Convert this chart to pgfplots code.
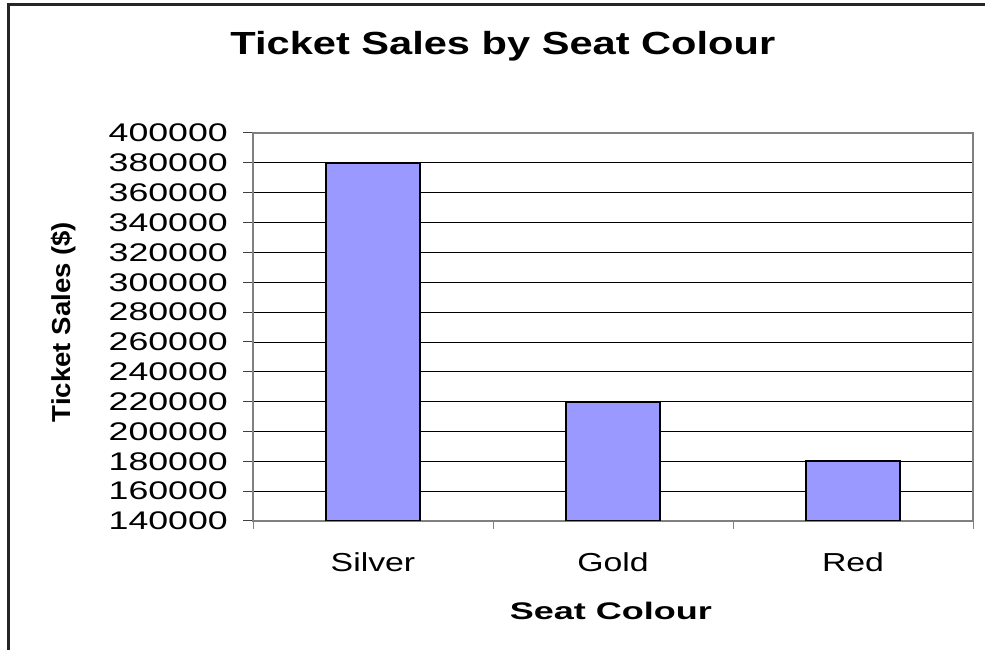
\documentclass[border=0pt]{standalone}
\usepackage{fontspec}
\setmainfont{Liberation Sans}
\newfontfamily\tickfont{Liberation Sans}[FakeStretch=1.4]
\newfontfamily\catfont{Liberation Sans}[FakeStretch=1.3]
\newfontfamily\titlefont{Liberation Sans}[FakeStretch=1.3]
\newfontfamily\xlabfont{Liberation Sans}[FakeStretch=1.5]
\newfontfamily\ylabfont{Liberation Sans}[FakeStretch=1.06]
\usepackage{pgfplots}
\pgfplotsset{compat=1.18}
\definecolor{barfill}{RGB}{153,153,255}
\begin{document}
\begin{tikzpicture}[x=1pt,y=1pt]
\useasboundingbox (0,0) rectangle (985,650);
\draw[line width=3pt, black!85] (8,-20) -- (8,645) -- (1000,645);
\begin{axis}[
  at={(253pt,129pt)}, anchor=south west,
  scale only axis, width=720pt, height=388pt,
  xmin=-0.5, xmax=2.5, ymin=140000, ymax=400000,
  scaled y ticks=false,
  /pgf/number format/assume math mode=true,
  ytick={140000,160000,180000,200000,220000,240000,260000,280000,300000,320000,340000,360000,380000,400000},
  yticklabels={140000,160000,180000,200000,220000,240000,260000,280000,300000,320000,340000,360000,380000,400000},
  xtick={0,1,2}, xticklabels={Silver,Gold,Red},
  minor xtick={-0.5,0.5,1.5,2.5},
  tick pos=left,
  tick align=outside,
  major tick length=10pt, minor tick length=8pt,
  major x tick style={draw=none},
  minor x tick style={gray, line width=1pt},
  major y tick style={black!75, line width=1pt},
  ymajorgrids, major grid style={black, line width=0.8pt},
  axis line style={gray, line width=1.5pt},
  yticklabel style={font=\tickfont\fontsize{25.5}{26}\selectfont, inner sep=0pt, xshift=-15pt},
  xticklabel style={font=\catfont\fontsize{26}{28}\selectfont, inner sep=0pt, anchor=base, yshift=-40pt},
  title={\bfseries Ticket Sales by Seat Colour},
  title style={at={(axis description cs:0.347,1.188)}, anchor=base, font=\titlefont\fontsize{32}{34}\selectfont},
  xlabel={\bfseries Seat Colour},
  xlabel style={at={(axis description cs:0.497,-0.255)}, anchor=base, font=\xlabfont\fontsize{24}{26}\selectfont},
  ylabel={\bfseries Ticket Sales (\$)},
  ylabel style={at={(axis description cs:-0.253,0.513)}, anchor=base, rotate=0, font=\ylabfont\fontsize{26}{28}\selectfont},
  ybar, bar width=94pt,
]
\addplot[fill=barfill, draw=black, line width=2pt] coordinates {(0,380000) (1,220000) (2,180000)};
\end{axis}
\end{tikzpicture}
\end{document}
